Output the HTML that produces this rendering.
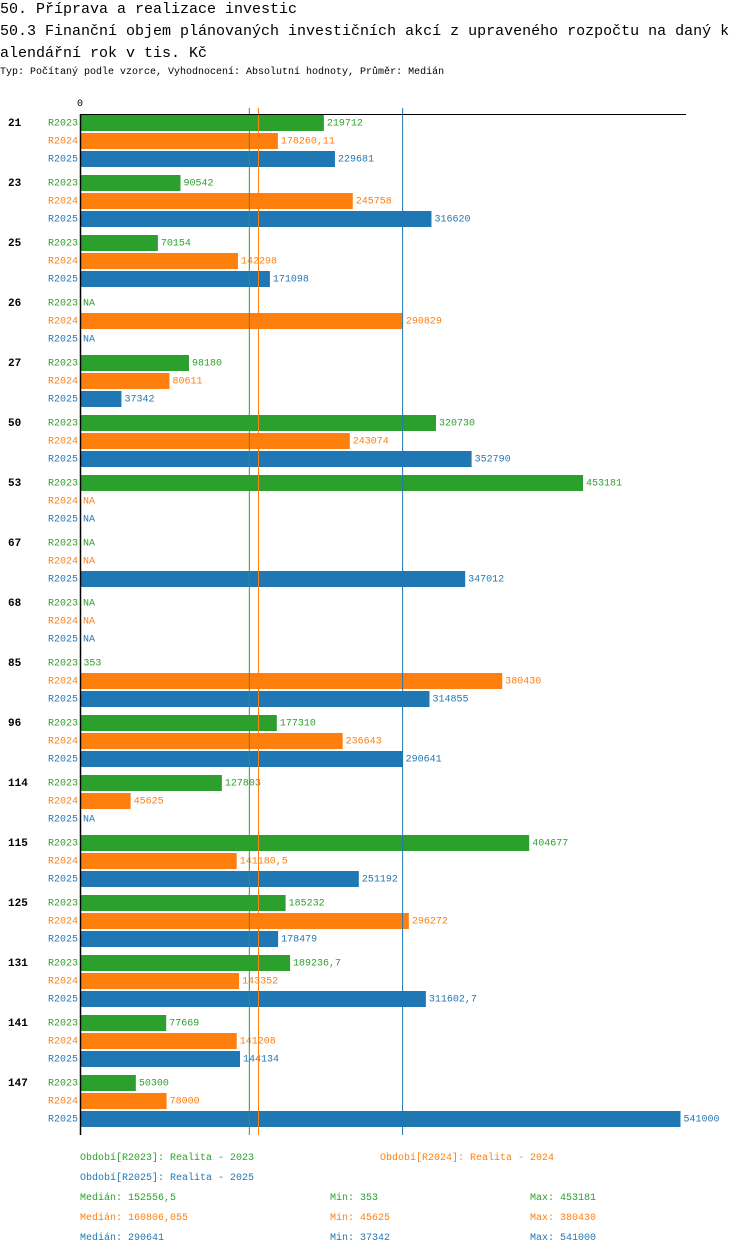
<!DOCTYPE html>
<html><head><meta charset="utf-8"><style>
body{margin:0;background:#fff;width:750px;height:1254px;overflow:hidden;font-family:"Liberation Mono",monospace}
.t{position:absolute;left:0;white-space:nowrap;font-size:15px;color:#000}
</style></head><body>
<div class="t" style="top:1px">50. Příprava a realizace investic</div>
<div class="t" style="top:23px">50.3 Finanční objem plánovaných investičních akcí z upraveného rozpočtu na daný k</div>
<div class="t" style="top:45px">alendářní rok v tis. Kč</div>
<div class="t" style="top:67px;font-size:10px">Typ: Počítaný podle vzorce, Vyhodnocení: Absolutní hodnoty, Průměr: Medián</div>
<svg id="c" width="750" height="1254" style="position:absolute;left:0;top:0" font-family="Liberation Mono, monospace" font-size="10"></svg>
<script>
const groups=["21","23","25","26","27","50","53","67","68","85","96","114","115","125","131","141","147"];
const series=["R2023","R2024","R2025"];
const colors=["#2ca02c","#ff7f0e","#1f77b4"];
const r2023=[219712,90542,70154,null,98180,320730,453181,null,null,353,177310,127803,404677,185232,189236.7,77669,50300];
const r2024=[178260.11,245758,142298,290829,80611,243074,null,null,null,380430,236643,45625,141180.5,296272,143352,141208,78000];
const r2025=[229681,316620,171098,null,37342,352790,null,347012,null,314855,290641,null,251192,178479,311602.7,144134,541000];
const medians=[152556.5,160806.055,290641];
const mins=[353,45625,37342];
const maxs=[453181,380430,541000];
const legendText=["Období[R2023]: Realita - 2023","Období[R2024]: Realita - 2024","Období[R2025]: Realita - 2025"];
const svg=document.getElementById('c');const NS="http://www.w3.org/2000/svg";
const x=v=>80+v*0.00111;
const gy=i=>114+i*60;
function el(t,a,txt){const e=document.createElementNS(NS,t);for(const k in a)e.setAttribute(k,a[k]);if(txt!=null)e.textContent=txt;svg.appendChild(e);return e;}
const fmt=v=>String(v).replace('.',',');
const data=[r2023,r2024,r2025];
groups.forEach((g,i)=>{
 const t=el('text',{x:8,y:gy(i)+12,'font-weight':'bold','font-size':11},g);
 
 series.forEach((s,j)=>{
  const y=gy(i)+1+j*18;
  const l=el('text',{x:78,y:y+10.5,'text-anchor':'end',fill:colors[j]},s);
  
  const v=data[j][i];
  if(v!=null){
   const r=el('rect',{x:80,y:y,width:x(v)-80,height:16,fill:colors[j]});
   
  }
  const vt=el('text',{x:(v!=null?x(v):80)+3,y:y+10.5,fill:colors[j]},v!=null?fmt(v):"NA");
  
 });
});
medians.forEach((m,j)=>{const l=el('line',{x1:x(m),x2:x(m),y1:108,y2:1135,stroke:colors[j],'stroke-width':1});
 });
const ax=el('line',{x1:80,x2:686,y1:114.5,y2:114.5,stroke:'#000'});
const ay=el('line',{x1:80.5,x2:80.5,y1:114,y2:1135,stroke:'#000','stroke-width':1.5});
const z=el('text',{x:80,y:106,'text-anchor':'middle'},"0");
const lp=[[80,1160],[380,1160],[80,1180]];
legendText.forEach((s,j)=>{const t=el('text',{x:lp[j][0],y:lp[j][1],fill:colors[j]},s);});
[0,1,2].forEach(j=>{const y=1200+j*20;
 const a=el('text',{x:80,y:y,fill:colors[j]},"Medián: "+fmt(medians[j]));
 const b=el('text',{x:330,y:y,fill:colors[j]},"Min: "+fmt(mins[j]));
 const c=el('text',{x:530,y:y,fill:colors[j]},"Max: "+fmt(maxs[j]));
});
</script>
</body></html>
